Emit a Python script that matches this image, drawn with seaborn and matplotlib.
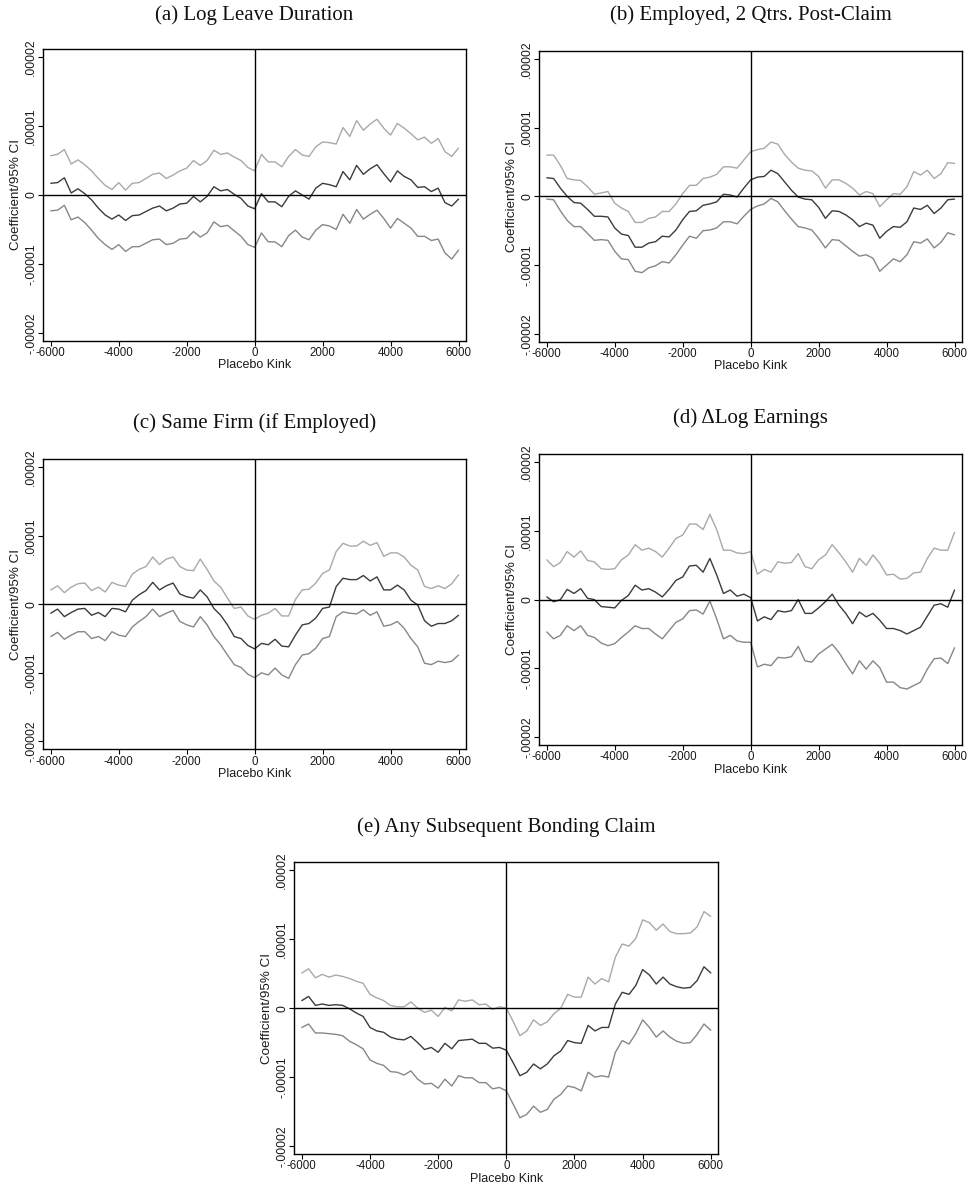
import numpy as np
import pandas as pd
import matplotlib
matplotlib.use("Agg")
import matplotlib.pyplot as plt
from matplotlib import font_manager
import seaborn as sns

# ---------------- data (values in units of 1e-5) ----------------
SCALE = 1e-5
placebo_kink = list(range(-6000, 6001, 200))

# (a) Log Leave Duration
est_a = [0.17, 0.18, 0.25, 0.03, 0.09, 0.02, -0.07, -0.19, -0.29, -0.35,
         -0.29, -0.37, -0.30, -0.29, -0.24, -0.19, -0.16, -0.23, -0.19, -0.13,
         -0.12, -0.02, -0.10, -0.02, 0.12, 0.06, 0.08, 0.01, -0.05, -0.16,
         -0.20, 0.02, -0.10, -0.10, -0.17, -0.02, 0.06, 0.00, -0.06, 0.10,
         0.17, 0.15, 0.12, 0.34, 0.22, 0.43, 0.30, 0.38, 0.44, 0.31,
         0.19, 0.35, 0.27, 0.22, 0.11, 0.12, 0.05, 0.10, -0.11, -0.16,
         -0.06]
up_a = [0.57, 0.59, 0.66, 0.45, 0.51, 0.44, 0.35, 0.24, 0.14, 0.08,
        0.18, 0.07, 0.17, 0.18, 0.24, 0.30, 0.32, 0.24, 0.29, 0.35,
        0.39, 0.50, 0.43, 0.50, 0.65, 0.59, 0.61, 0.55, 0.50, 0.40,
        0.35, 0.59, 0.48, 0.48, 0.41, 0.56, 0.66, 0.58, 0.56, 0.70,
        0.77, 0.76, 0.74, 0.98, 0.85, 1.08, 0.94, 1.03, 1.10, 0.97,
        0.87, 1.04, 0.97, 0.89, 0.80, 0.84, 0.75, 0.82, 0.63, 0.56,
        0.68]
lo_a = [-0.23, -0.22, -0.15, -0.36, -0.32, -0.40, -0.51, -0.63, -0.72, -0.79,
        -0.72, -0.82, -0.75, -0.75, -0.70, -0.65, -0.64, -0.72, -0.70, -0.64,
        -0.63, -0.53, -0.61, -0.55, -0.39, -0.46, -0.44, -0.52, -0.60, -0.72,
        -0.76, -0.55, -0.68, -0.68, -0.75, -0.59, -0.51, -0.61, -0.65, -0.51,
        -0.43, -0.45, -0.50, -0.28, -0.41, -0.21, -0.35, -0.28, -0.22, -0.34,
        -0.48, -0.34, -0.41, -0.48, -0.60, -0.60, -0.66, -0.64, -0.84, -0.93,
        -0.80]

# (b) Employed, 2 Qtrs. Post-Claim
est_b = [0.27, 0.26, 0.12, 0.00, -0.09, -0.10, -0.19, -0.29, -0.29, -0.30,
         -0.46, -0.55, -0.57, -0.74, -0.74, -0.68, -0.66, -0.58, -0.59, -0.49,
         -0.34, -0.22, -0.21, -0.13, -0.11, -0.08, 0.03, 0.02, -0.01, 0.12,
         0.24, 0.28, 0.29, 0.38, 0.33, 0.21, 0.09, -0.01, -0.04, -0.05,
         -0.16, -0.32, -0.21, -0.22, -0.27, -0.34, -0.44, -0.39, -0.42, -0.61,
         -0.51, -0.44, -0.45, -0.37, -0.17, -0.19, -0.13, -0.25, -0.17, -0.05,
         -0.04]
up_b = [0.60, 0.60, 0.45, 0.26, 0.24, 0.23, 0.14, 0.03, 0.05, 0.07,
        -0.10, -0.17, -0.22, -0.38, -0.38, -0.32, -0.30, -0.22, -0.22, -0.11,
        0.04, 0.16, 0.16, 0.26, 0.28, 0.32, 0.43, 0.43, 0.41, 0.53,
        0.65, 0.68, 0.70, 0.79, 0.76, 0.61, 0.50, 0.41, 0.38, 0.37,
        0.29, 0.12, 0.24, 0.24, 0.19, 0.12, 0.02, 0.07, 0.04, -0.15,
        -0.05, 0.04, 0.03, 0.14, 0.36, 0.31, 0.38, 0.26, 0.33, 0.49,
        0.48]
lo_b = [-0.04, -0.05, -0.21, -0.35, -0.44, -0.44, -0.54, -0.64, -0.63, -0.64,
        -0.80, -0.91, -0.92, -1.09, -1.11, -1.04, -1.01, -0.95, -0.97, -0.85,
        -0.71, -0.58, -0.61, -0.50, -0.49, -0.46, -0.37, -0.37, -0.40, -0.29,
        -0.19, -0.14, -0.11, -0.03, -0.08, -0.21, -0.33, -0.44, -0.46, -0.49,
        -0.61, -0.75, -0.63, -0.64, -0.72, -0.80, -0.87, -0.85, -0.90, -1.09,
        -1.00, -0.91, -0.95, -0.85, -0.66, -0.68, -0.62, -0.75, -0.67, -0.53,
        -0.56]

# (c) Same Firm (if Employed)
est_c = [-0.13, -0.07, -0.18, -0.12, -0.07, -0.06, -0.16, -0.12, -0.18, -0.06,
         -0.07, -0.11, 0.06, 0.14, 0.20, 0.32, 0.21, 0.27, 0.31, 0.15,
         0.11, 0.09, 0.21, 0.11, -0.06, -0.16, -0.30, -0.47, -0.50, -0.60,
         -0.65, -0.57, -0.59, -0.51, -0.61, -0.62, -0.45, -0.30, -0.28, -0.20,
         -0.06, -0.04, 0.26, 0.38, 0.36, 0.36, 0.42, 0.34, 0.40, 0.21,
         0.21, 0.28, 0.21, 0.06, -0.01, -0.24, -0.32, -0.28, -0.28, -0.24,
         -0.16]
up_c = [0.21, 0.27, 0.17, 0.25, 0.30, 0.31, 0.20, 0.25, 0.18, 0.32,
        0.28, 0.26, 0.44, 0.51, 0.55, 0.69, 0.58, 0.66, 0.69, 0.55,
        0.50, 0.49, 0.66, 0.51, 0.34, 0.25, 0.09, -0.06, -0.04, -0.17,
        -0.22, -0.16, -0.13, -0.06, -0.17, -0.17, 0.07, 0.21, 0.22, 0.31,
        0.45, 0.50, 0.77, 0.89, 0.85, 0.85, 0.92, 0.86, 0.90, 0.70,
        0.75, 0.75, 0.69, 0.57, 0.50, 0.26, 0.23, 0.27, 0.23, 0.30,
        0.43]
lo_c = [-0.47, -0.41, -0.51, -0.45, -0.40, -0.40, -0.50, -0.47, -0.53, -0.40,
        -0.45, -0.47, -0.33, -0.25, -0.18, -0.07, -0.18, -0.13, -0.09, -0.25,
        -0.30, -0.33, -0.18, -0.30, -0.47, -0.59, -0.74, -0.88, -0.92, -1.02,
        -1.07, -1.00, -1.03, -0.93, -1.03, -1.08, -0.88, -0.74, -0.72, -0.64,
        -0.50, -0.47, -0.18, -0.11, -0.13, -0.14, -0.08, -0.16, -0.11, -0.32,
        -0.30, -0.25, -0.35, -0.50, -0.62, -0.86, -0.88, -0.83, -0.85, -0.83,
        -0.74]

# (d) Delta Log Earnings
est_d = [0.04, -0.03, 0.00, 0.15, 0.09, 0.16, 0.02, 0.00, -0.10, -0.11,
         -0.12, -0.01, 0.06, 0.21, 0.14, 0.16, 0.11, 0.04, 0.15, 0.28,
         0.33, 0.49, 0.50, 0.40, 0.60, 0.36, 0.09, 0.14, 0.05, 0.08,
         0.03, -0.31, -0.25, -0.29, -0.16, -0.18, -0.16, 0.00, -0.20, -0.20,
         -0.12, -0.03, 0.08, -0.08, -0.20, -0.35, -0.18, -0.25, -0.20, -0.30,
         -0.42, -0.42, -0.45, -0.50, -0.45, -0.40, -0.24, -0.08, -0.06, -0.11,
         0.14]
up_d = [0.58, 0.48, 0.54, 0.70, 0.62, 0.71, 0.57, 0.55, 0.45, 0.44,
        0.45, 0.58, 0.65, 0.80, 0.72, 0.75, 0.70, 0.62, 0.75, 0.89,
        0.94, 1.10, 1.10, 1.02, 1.24, 1.02, 0.72, 0.72, 0.68, 0.67,
        0.70, 0.37, 0.44, 0.40, 0.55, 0.53, 0.54, 0.67, 0.48, 0.45,
        0.58, 0.65, 0.80, 0.68, 0.55, 0.40, 0.60, 0.50, 0.65, 0.53,
        0.36, 0.37, 0.30, 0.31, 0.39, 0.40, 0.60, 0.75, 0.72, 0.72,
        0.98]
lo_d = [-0.47, -0.57, -0.52, -0.38, -0.45, -0.38, -0.52, -0.55, -0.63, -0.67,
        -0.64, -0.55, -0.47, -0.38, -0.42, -0.42, -0.50, -0.57, -0.45, -0.33,
        -0.28, -0.16, -0.15, -0.21, -0.02, -0.28, -0.57, -0.52, -0.60, -0.62,
        -0.62, -0.98, -0.94, -0.96, -0.84, -0.85, -0.83, -0.68, -0.89, -0.91,
        -0.79, -0.72, -0.65, -0.77, -0.93, -1.08, -0.89, -1.01, -0.89, -0.99,
        -1.20, -1.20, -1.28, -1.30, -1.25, -1.20, -1.01, -0.86, -0.85, -0.93,
        -0.70]

# (e) Any Subsequent Bonding Claim
est_e = [0.11, 0.17, 0.04, 0.06, 0.04, 0.05, 0.04, -0.01, -0.07, -0.12,
         -0.28, -0.33, -0.35, -0.42, -0.45, -0.46, -0.41, -0.50, -0.60, -0.57,
         -0.64, -0.51, -0.59, -0.47, -0.46, -0.45, -0.51, -0.51, -0.58, -0.57,
         -0.61, -0.79, -0.98, -0.93, -0.81, -0.88, -0.81, -0.69, -0.62, -0.47,
         -0.50, -0.51, -0.25, -0.33, -0.28, -0.28, 0.06, 0.23, 0.20, 0.33,
         0.56, 0.48, 0.35, 0.45, 0.35, 0.31, 0.29, 0.30, 0.40, 0.60,
         0.51]
up_e = [0.51, 0.57, 0.44, 0.49, 0.45, 0.48, 0.46, 0.43, 0.39, 0.36,
        0.20, 0.15, 0.11, 0.04, 0.02, 0.02, 0.09, 0.00, -0.06, -0.03,
        -0.12, 0.01, -0.04, 0.12, 0.10, 0.12, 0.05, 0.06, -0.02, 0.02,
        0.00, -0.19, -0.40, -0.33, -0.17, -0.25, -0.20, -0.08, 0.00, 0.20,
        0.16, 0.16, 0.45, 0.35, 0.43, 0.38, 0.74, 0.93, 0.90, 1.01,
        1.28, 1.24, 1.13, 1.22, 1.11, 1.08, 1.08, 1.09, 1.18, 1.40,
        1.33]
lo_e = [-0.28, -0.23, -0.36, -0.36, -0.37, -0.38, -0.40, -0.48, -0.53, -0.59,
        -0.75, -0.80, -0.83, -0.92, -0.93, -0.97, -0.91, -1.03, -1.10, -1.09,
        -1.16, -1.03, -1.13, -0.98, -1.01, -1.01, -1.08, -1.08, -1.17, -1.15,
        -1.20, -1.39, -1.59, -1.54, -1.42, -1.51, -1.47, -1.32, -1.25, -1.13,
        -1.15, -1.20, -0.93, -1.00, -0.98, -1.00, -0.64, -0.47, -0.52, -0.37,
        -0.17, -0.28, -0.42, -0.33, -0.42, -0.48, -0.51, -0.50, -0.38, -0.23,
        -0.32]

titles = ["(a) Log Leave Duration", "(b) Employed, 2 Qtrs. Post-Claim",
          "(c) Same Firm (if Employed)", "(d) \u0394Log Earnings",
          "(e) Any Subsequent Bonding Claim"]
x_ticks = [-6000, -4000, -2000, 0, 2000, 4000, 6000]
x_tick_labels = ["-6000", "-4000", "-2000", "0", "2000", "4000", "6000"]
y_ticks = [-2e-5, -1e-5, 0, 1e-5, 2e-5]
y_tick_labels = ["-.00002", "-.00001", "0", ".00001", ".00002"]
x_label = "Placebo Kink"
y_label = "Coefficient/95% CI"

# ---------------- styling ----------------
sns.set_theme(style="white")
plt.rcParams["font.family"] = ["Liberation Sans", "DejaVu Sans"]
names = {f.name for f in font_manager.fontManager.ttflist}
NARROW = "Liberation Sans Narrow" if "Liberation Sans Narrow" in names else None

palette = {"upper": "#a9a9a9", "est": "#3c3c3c", "lower": "#878787"}

W, H = 973, 1185
fig = plt.figure(figsize=(W / 100, H / 100), dpi=100)

# axes frames in pixel coordinates (x0, y0, x1, y1) and title centres
rects = [(43.3, 49.3, 466, 340.7), (539.3, 51, 962, 341.7),
         (43.3, 459.3, 466, 749.3), (539.3, 454.3, 962, 745),
         (294.3, 862.3, 718.3, 1154)]
title_pos = [(254.6, 15), (750.6, 15), (254.6, 423), (750.6, 418), (506.3, 827)]

panels = [(est_a, up_a, lo_a), (est_b, up_b, lo_b), (est_c, up_c, lo_c),
          (est_d, up_d, lo_d), (est_e, up_e, lo_e)]

for (est, up, lo), (x0, y0, x1, y1), title, (tx, ty) in zip(panels, rects, titles, title_pos):
    ax = fig.add_axes([x0 / W, 1 - y1 / H, (x1 - x0) / W, (y1 - y0) / H])
    df = pd.concat([
        pd.DataFrame({"kink": placebo_kink, "value": np.array(up) * SCALE, "series": "upper"}),
        pd.DataFrame({"kink": placebo_kink, "value": np.array(lo) * SCALE, "series": "lower"}),
        pd.DataFrame({"kink": placebo_kink, "value": np.array(est) * SCALE, "series": "est"}),
    ], ignore_index=True)
    sns.lineplot(data=df, x="kink", y="value", hue="series", palette=palette,
                 estimator=None, sort=False, legend=False, linewidth=1.0, ax=ax)
    ax.axhline(0, color="black", linewidth=1.0, zorder=3)
    ax.axvline(0, color="black", linewidth=1.0, zorder=3)

    ax.set_xlim(-6220, 6220)
    ax.set_ylim(-2.115e-5, 2.115e-5)
    ax.set_xticks(x_ticks)
    ax.set_yticks(y_ticks)
    if NARROW:
        ax.set_xticklabels(x_tick_labels, fontsize=9.2, family=NARROW, color="#1a1a1a")
    else:
        ax.set_xticklabels(x_tick_labels, fontsize=8.3, color="#1a1a1a")
    ax.set_yticklabels(y_tick_labels, fontsize=8.8, rotation=90, va="center", color="#1a1a1a")
    ax.tick_params(axis="both", which="both", direction="out", length=3.5, width=0.8,
                   color="black", pad=1.0, bottom=True, left=True, top=False, right=False)

    if NARROW:
        ax.set_xlabel(x_label, fontsize=10.3, family=NARROW, color="#1a1a1a", labelpad=0.5)
    else:
        ax.set_xlabel(x_label, fontsize=9.0, color="#1a1a1a", labelpad=0.3)
    ax.set_ylabel(y_label, fontsize=9.6, color="#1a1a1a", labelpad=2)

    for s in ax.spines.values():
        s.set_color("black")
        s.set_linewidth(1.0)
        s.set_visible(True)
    ax.set_facecolor("white")

    fig.text(tx / W, 1 - ty / H, title, ha="center", va="center",
             fontsize=15, family=["Liberation Serif", "DejaVu Serif"], color="#111111")

fig.savefig("out.png", dpi=100, facecolor="white")
